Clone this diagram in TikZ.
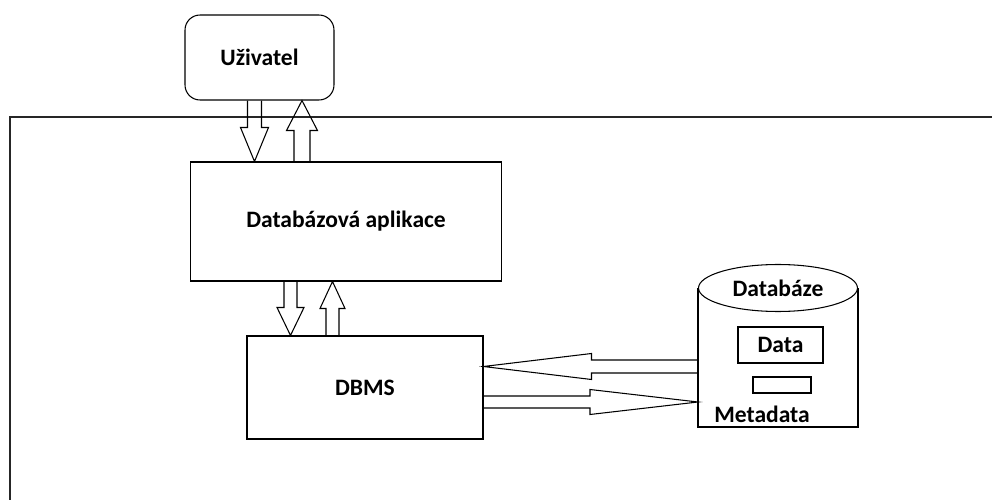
\documentclass[tikz,border=0pt]{standalone}
\usepackage{fontspec}
\setmainfont{Carlito}
\usetikzlibrary{calc,shapes.geometric}

\def\px{0.02cm}
\tikzset{
  BoxLine/.style={draw,line width=0.6pt},
  BoxTxt/.style={BoxLine,font=\bfseries\fontsize{13.4}{15}\selectfont,inner sep=0pt},
  ArrowLine/.style={line width=0.6pt,line join=miter},
  FrameLine/.style={line width=1.1pt,black!85}
}
\newcommand\BlockArrow[5]{%
  \draw[ArrowLine] let \p1=(#1), \p2=(#2), \n1={atan2(\y2-\y1,\x2-\x1)}, \n2={veclen(\x2-\x1,\y2-\y1)} in
    ($(\p1)+(\n1+90:#3*\px)$) -- ($(\p1)+(\n1:\n2-#5*\px)+(\n1+90:#3*\px)$)
    -- ($(\p1)+(\n1:\n2-#5*\px)+(\n1+90:#4*\px)$) -- (\p2)
    -- ($(\p1)+(\n1:\n2-#5*\px)+(\n1-90:#4*\px)$)
    -- ($(\p1)+(\n1:\n2-#5*\px)+(\n1-90:#3*\px)$)
    -- ($(\p1)+(\n1-90:#3*\px)$);
}

\begin{document}
\begin{tikzpicture}[x=0.02cm,y=-0.02cm]
\useasboundingbox (0,0) rectangle (992,500);

\draw[FrameLine] (992,117) -- (10,117) -- (10,500);

\node[BoxTxt,rounded corners=0.3cm,minimum width=2.98cm,minimum height=1.7cm] (user) at (259.5,57.5) {Uživatel};
\node[BoxTxt,minimum width=6.24cm,minimum height=2.38cm] (app) at (346,221.5) {Databázová aplikace};
\node[BoxTxt,minimum width=4.72cm,minimum height=2.06cm] (dbms) at (365,387.5) {DBMS};

\node[BoxTxt,ellipse,minimum width=3.18cm,minimum height=0.94cm] (db) at (778,288) {Databáze};
\coordinate (dbBase) at (778,427);
\draw[BoxLine] (db.west) -- (db.west |- dbBase) -- (db.east |- dbBase) -- (db.east);
\node[BoxTxt,minimum width=1.7cm,minimum height=0.72cm] (data) at (780.5,345) {Data};
\node[BoxLine,minimum width=1.16cm,minimum height=0.32cm,inner sep=0pt] (meta) at (782,385) {};
\node[font=\bfseries\fontsize{13.4}{15}\selectfont,inner sep=0pt] (metaLbl) at (762,414) {Metadata};

\coordinate (u1) at ($(user.south)+(-5,0)$);
\coordinate (a1) at (u1 |- app.north);
\coordinate (a2) at ($(app.north)+(-44,0)$);
\coordinate (u2) at (a2 |- user.south);
\BlockArrow{u1}{a1}{7}{14}{34}
\BlockArrow{a2}{u2}{8}{15.5}{30}

\coordinate (a3) at ($(app.south)+(-55.5,0)$);
\coordinate (d1) at (a3 |- dbms.north);
\coordinate (d2) at ($(dbms.north)+(-32.5,0)$);
\coordinate (a4) at (d2 |- app.south);
\BlockArrow{a3}{d1}{6.5}{13.5}{28}
\BlockArrow{d2}{a4}{6.5}{12.5}{27}

\coordinate (d3) at ($(dbms.east)+(0,-21)$);
\coordinate (b1) at (db.west |- d3);
\coordinate (d4) at ($(dbms.east)+(0,14.5)$);
\coordinate (b2) at (db.west |- d4);
\BlockArrow{b1}{d3}{6.5}{13}{108}
\BlockArrow{d4}{b2}{6}{12.5}{108}

\end{tikzpicture}
\end{document}
